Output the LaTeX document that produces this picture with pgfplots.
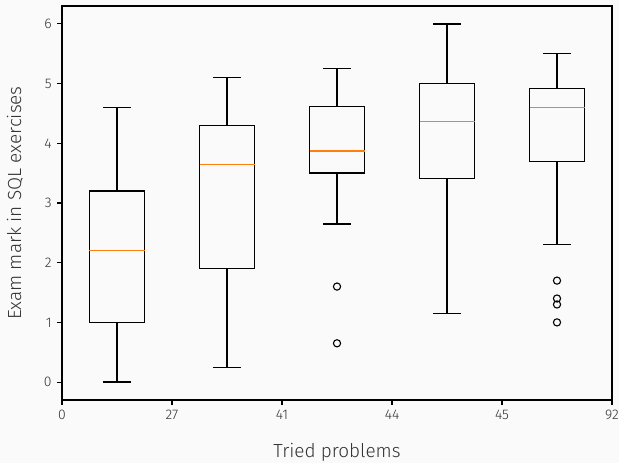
\documentclass[border=0pt]{standalone}
\usepackage{pgfplots}
\pgfplotsset{compat=1.18}
\usepgfplotslibrary{statistics}
\usepackage{fontspec}
\setmainfont{Fira Sans Light}
\definecolor{bg}{HTML}{FAFAFA}
\definecolor{med}{HTML}{FF7F0E}
\definecolor{txt}{HTML}{333333}
\pgfplotsset{
  mybox/.style={black, line width=1.3bp, mark=o, mark size=3.6bp,
    mark options={solid, black, line width=1.1bp, fill=none},
    boxplot/draw direction=y,
    boxplot/box extend=0.5, boxplot/whisker extend=0.25,
    boxplot/every median/.style={draw=med, line width=1.3bp}}
}
\begin{document}
\begin{tikzpicture}[x=1bp,y=1bp]
\fill[bg] (-62,-63) rectangle (557,400);
\begin{axis}[
  scale only axis, width=550bp, height=394bp,
  at={(0,0)}, anchor=south west,
  xmin=0, xmax=5, ymin=-0.3, ymax=6.3,
  xtick={0,1,2,3,4,5}, xticklabels={0,27,41,44,45,92},
  ytick={0,1,2,3,4,5,6},
  tick align=outside, xtick pos=bottom, ytick pos=left,
  major tick length=4.9bp,
  axis line style={black, line width=1.1bp},
  tick style={black, line width=1.1bp},
  /pgf/number format/assume math mode=true,
  tick label style={font=\fontsize{14}{16}\selectfont, text=txt},
  xticklabel style={yshift=-2bp},
  yticklabel style={xshift=-2bp},
  xlabel={Tried problems}, ylabel={Exam mark in SQL exercises},
  every axis x label/.style={at={(axis description cs:0.5,-0.132)}, anchor=center, font=\fontsize{19}{23}\selectfont, text=txt},
  every axis y label/.style={at={(axis description cs:-0.0855,0.5)}, anchor=center, rotate=90, font=\fontsize{19}{23}\selectfont, text=txt},
]
\addplot[mybox, boxplot prepared={draw position=0.5, median=2.2, upper quartile=3.2, lower quartile=1.0, upper whisker=4.6, lower whisker=0}] coordinates {};
\addplot[mybox, boxplot prepared={draw position=1.5, median=3.65, upper quartile=4.3, lower quartile=1.9, upper whisker=5.1, lower whisker=0.25}] coordinates {};
\addplot[mybox, boxplot prepared={draw position=2.5, median=3.87, upper quartile=4.62, lower quartile=3.5, upper whisker=5.25, lower whisker=2.65}] coordinates {(0,1.6) (0,0.65)};
\addplot[mybox, boxplot prepared={draw position=3.5, median=4.37, upper quartile=5.0, lower quartile=3.41, upper whisker=6.0, lower whisker=1.15}] coordinates {};
\addplot[mybox, boxplot prepared={draw position=4.5, median=4.6, upper quartile=4.92, lower quartile=3.7, upper whisker=5.5, lower whisker=2.3}] coordinates {(0,1.7) (0,1.4) (0,1.3) (0,1.0)};
\end{axis}
\pgfresetboundingbox
\path (-62,-63) rectangle (557,400);
\end{tikzpicture}
\end{document}
